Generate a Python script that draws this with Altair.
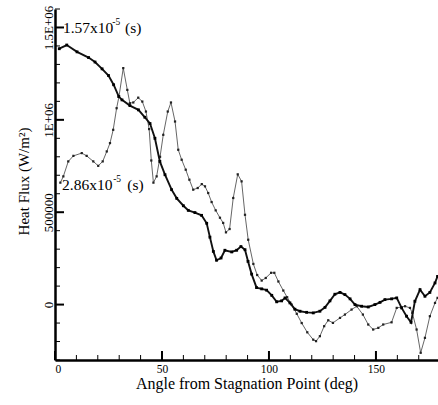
import altair as alt
import pandas as pd

# ---- data ----
angle_157 = [2.0, 5.5, 10.3, 15.7, 18.7, 22.0, 25.0, 27.4, 29.8, 31.3, 35.0, 39.0, 42.0, 44.4,
             46.7, 49.0, 51.4, 54.5, 56.9, 60.0, 62.3, 65.4, 68.5, 70.9, 72.4, 74.0, 75.5,
             77.6, 79.4, 82.6, 84.9, 86.9, 88.8, 90.2, 91.9, 94.2, 96.6, 98.9, 101.3, 103.6,
             105.9, 107.5, 109.8, 112.1, 114.5, 117.6, 120.7, 123.8, 126.2, 128.5, 130.8,
             133.2, 135.5, 137.9, 140.2, 143.3, 146.4, 149.5, 151.9, 154.2, 157.3, 159.7,
             162.0, 164.3, 166.4, 168.2, 170.6, 172.9, 175.2, 177.6, 178.8]
flux_157 = [1385000, 1405000, 1368000, 1337000, 1313000, 1276000, 1240000, 1190000, 1126000,
            1108000, 1077000, 1054000, 1014000, 980000, 900000, 775000, 703000, 622000,
            575000, 535000, 510000, 498000, 483000, 440000, 365000, 288000, 240000, 252000,
            294000, 285000, 294000, 314000, 297000, 234000, 165000, 92000, 85000, 78000,
            50000, 15000, 20000, 36000, 9000, -25000, -36000, -42000, -45000,
            -36000, -15000, 20000, 56000, 66000, 54000, 31000, 0, -9000, -13000,
            0, 12000, 27000, 31000, 36000, -18000, -63000, -96000, 18000, 81000,
            45000, 66000, 117000, 153000]

angle_286 = [2.5, 3.9, 6.2, 8.6, 12.5, 14.8, 17.9, 20.2, 22.3, 24.2, 25.7, 27.2, 28.8, 29.9,
             31.9, 33.8, 35.0, 36.6, 38.9, 40.8, 42.5, 44.0, 45.0, 46.0, 47.5, 49.1, 50.6,
             52.7, 54.2, 56.1, 57.6, 59.2, 61.1, 62.8, 64.6, 66.7, 68.6, 70.1, 71.6, 73.2,
             75.1, 77.1, 78.6, 79.9, 81.6, 83.3, 85.4, 87.2, 88.8, 90.3, 92.7, 94.5, 96.6,
             98.5, 101.0, 102.5, 104.4, 106.7, 108.5, 110.6, 113.0, 115.3, 117.9, 120.7,
             122.0, 123.8, 125.8, 127.7, 129.9, 133.2, 135.5, 138.6, 141.0, 143.9, 146.4,
             148.7, 151.1, 153.4, 157.3, 159.7, 163.6, 165.9, 167.0, 169.0, 170.9, 172.9,
             175.2, 177.6, 178.8]
flux_286 = [660000, 694000, 775000, 805000, 820000, 805000, 775000, 751000, 775000, 829000,
            874000, 946000, 1063000, 1126000, 1280000, 1162000, 1090000, 1094000, 1120000,
            1099000, 1045000, 950000, 780000, 660000, 694000, 800000, 919000, 1045000,
            1094000, 991000, 838000, 784000, 730000, 676000, 622000, 631000, 652000, 640000,
            604000, 555000, 510000, 470000, 442000, 391000, 409000, 577000, 705000, 667000,
            486000, 351000, 220000, 160000, 130000, 144000, 172000, 172000, 125000, 76000,
            40000, 0, -50000, -100000, -150000, -190000, -198000, -171000, -117000, -85000,
            -99000, -72000, -54000, -27000, -9000, -54000, -108000, -135000, -126000,
            -108000, -96000, -18000, -9000, -18000, -45000, -135000, -261000, -180000,
            -63000, 9000, 36000]

x_major = [0, 50, 100, 150]
x_minor = [10, 20, 30, 40, 60, 70, 80, 90, 110, 120, 130, 140, 160, 170]
y_major = [0, 500000, 1000000, 1500000]
y_minor = [-300000, -200000, -100000, 100000, 200000, 300000, 400000, 600000, 700000,
           800000, 900000, 1100000, 1200000, 1300000, 1400000, 1600000]

FONT = "Liberation Serif"
W, H = 383, 351
TICK = "black"

xs = alt.Scale(domain=[0, 179], nice=False, zero=False)
ys = alt.Scale(domain=[-300000, 1600000], nice=False, zero=False)

x_axis = alt.Axis(values=x_major, format="d", grid=False, tickSize=0, labelPadding=3,
                  labelFont=FONT, labelFontSize=11.5, labelColor="black",
                  domainColor="black", domainWidth=2.5,
                  title="Angle from Stagnation Point (deg)", titleFont=FONT,
                  titleFontSize=16, titleFontWeight="normal", titleColor="black",
                  titleY=28, titleBaseline="alphabetic")
y_axis = alt.Axis(values=y_major, grid=False, tickSize=0, labelPadding=0,
                  labelExpr="datum.value == 1500000 ? '1.5E+06' : datum.value == 1000000 ? '1E+06' : format(datum.value, 'd')",
                  labelAngle=270, labelAlign="center", labelBaseline="bottom",
                  labelFont=FONT, labelFontSize=13, labelColor="black",
                  domainColor="black", domainWidth=2.5,
                  title="Heat Flux (W/m²)", titleFont=FONT, titleFontSize=15,
                  titleFontWeight="normal", titleColor="black", titleAngle=270,
                  titleX=-27, titleY=172, titleAlign="center", titleBaseline="alphabetic")

X = lambda: alt.X("angle:Q", scale=xs, axis=x_axis)
Y = lambda: alt.Y("flux:Q", scale=ys, axis=y_axis)

df1 = pd.DataFrame({"angle": angle_157, "flux": flux_157})
df2 = pd.DataFrame({"angle": angle_286, "flux": flux_286})

line1 = alt.Chart(df1).mark_line(color="#111111", strokeWidth=1.9).encode(x=X(), y=Y())
pts1 = alt.Chart(df1).mark_point(filled=True, shape="square", size=8, color="#000000", opacity=1).encode(x=X(), y=Y())
line2 = alt.Chart(df2).mark_line(color="#555555", strokeWidth=0.9).encode(x=X(), y=Y())
pts2 = alt.Chart(df2).mark_point(filled=True, shape="square", size=5, color="#222222", opacity=1).encode(x=X(), y=Y())

# inward ticks
yM = alt.Chart(pd.DataFrame({"flux": y_major})).mark_rule(color=TICK, strokeWidth=2).encode(
    y=Y(), x=alt.value(0), x2=alt.value(9))
ym = alt.Chart(pd.DataFrame({"flux": y_minor})).mark_rule(color=TICK, strokeWidth=1).encode(
    y=Y(), x=alt.value(0), x2=alt.value(5))
xM = alt.Chart(pd.DataFrame({"angle": x_major})).mark_rule(color=TICK, strokeWidth=2).encode(
    x=X(), y=alt.value(H), y2=alt.value(H - 9))
xm = alt.Chart(pd.DataFrame({"angle": x_minor})).mark_rule(color=TICK, strokeWidth=1).encode(
    x=X(), y=alt.value(H), y2=alt.value(H - 5))

def txt(s, xv, yv, size):
    return alt.Chart(pd.DataFrame({"angle": [xv], "flux": [yv]})).mark_text(
        text=s, font=FONT, fontSize=size, align="left", baseline="alphabetic", color="black"
    ).encode(x=X(), y=Y())

labels = [
    txt("1.57x10", 3.7, 1470000, 15.5),
    txt("-5", 26.8, 1515000, 9.5),
    txt("(s)", 32.7, 1470000, 15.5),
    txt("2.86x10", 3.3, 620000, 15.5),
    txt("-5", 27.2, 665000, 9.5),
    txt("(s)", 33.8, 620000, 15.5),
]

chart = alt.layer(line2, pts2, line1, pts1, yM, ym, xM, xm, *labels).properties(
    width=W, height=H,
    padding={"left": 55, "top": 9, "right": 0, "bottom": 45},
    autosize=alt.AutoSizeParams(type="none"),
    background="white",
).configure_view(stroke=None)

chart.save("out.html", embed_options={"renderer": "svg", "actions": False})
